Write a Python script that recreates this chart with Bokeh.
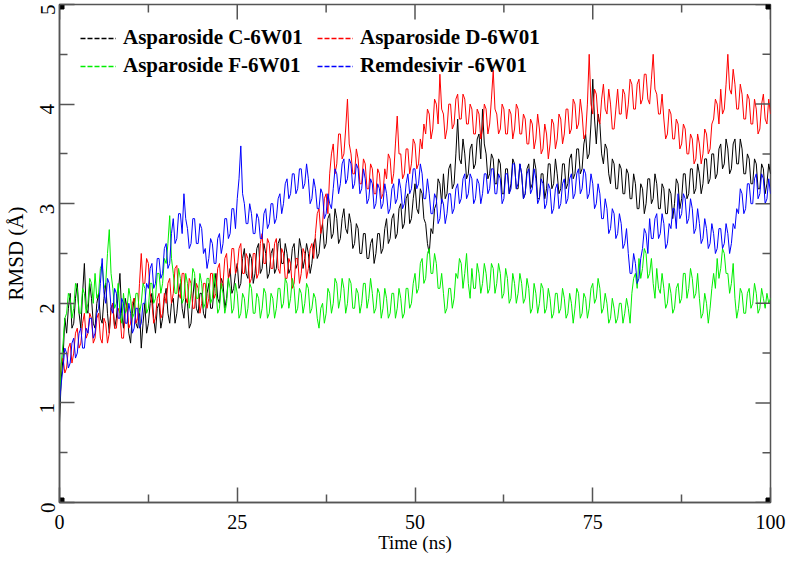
import math
import numpy as np
from bokeh.plotting import figure
from bokeh.models import Range1d, FixedTicker, Legend, LegendItem, ColumnDataSource
from bokeh.embed import file_html
from bokeh.resources import INLINE

# ---------------- data, one value every 0.25 ns ----------------
STEP_NS = 0.25

asparoside_c = [
    0.8, 1.25, 1.45, 1.85, 1.7, 1.95, 2.1, 1.75, 1.8, 2.05, 2.2, 1.9, 1.75, 2.1, 2.4, 1.95, 1.9, 2.2, 2.05, 1.8,
    1.75, 2.0, 2.1, 1.85, 1.8, 2.05, 2.2, 1.9, 1.7, 1.95, 2.0, 1.75, 1.85, 2.1, 2.3, 1.9, 1.75, 2.05, 1.95, 1.7,
    1.6, 1.9, 2.05, 1.8, 1.75, 1.95, 1.55, 1.8, 2.0, 1.7, 1.8, 2.0, 2.1, 1.85, 1.7, 1.95, 2.0, 1.75, 1.85, 2.05,
    2.15, 1.9, 1.8, 2.0, 2.05, 1.8, 1.9, 2.1, 2.2, 1.95, 1.85, 2.05, 2.0, 1.75, 1.8, 2.05, 2.25, 1.95, 1.9, 2.1,
    2.1, 1.9, 1.85, 2.1, 2.2, 1.95, 1.95, 2.15, 2.3, 2.05, 2.0, 2.25, 2.2, 1.95, 2.05, 2.25, 2.35, 2.1, 2.15, 2.3,
    2.4, 2.15, 2.2, 2.45, 2.55, 2.3, 2.25, 2.5, 2.45, 2.2, 2.3, 2.55, 2.6, 2.3, 2.35, 2.6, 2.5, 2.25, 2.3, 2.5,
    2.55, 2.3, 2.35, 2.6, 2.65, 2.4, 2.4, 2.6, 2.5, 2.3, 2.35, 2.55, 2.6, 2.35, 2.4, 2.65, 2.55, 2.35, 2.45, 2.6,
    2.5, 2.3, 2.4, 2.6, 2.65, 2.45, 2.5, 2.7, 2.8, 2.55, 2.6, 2.85, 2.9, 2.65, 2.7, 2.95, 2.85, 2.6, 2.65, 2.85,
    2.95, 2.75, 2.7, 2.9, 2.8, 2.55, 2.6, 2.8, 2.75, 2.5, 2.5, 2.7, 2.7, 2.45, 2.45, 2.6, 2.65, 2.4, 2.5, 2.7,
    2.7, 2.5, 2.55, 2.75, 2.85, 2.6, 2.65, 2.85, 2.9, 2.65, 2.7, 2.95, 3.0, 2.75, 2.8, 3.05, 3.1, 2.8, 2.85, 3.05,
    3.2, 2.95, 2.9, 3.15, 3.1, 2.85, 2.8, 2.6, 2.5, 2.75, 2.7, 2.95, 3.0, 3.25, 3.2, 3.0, 3.3, 3.05, 3.1, 3.35,
    3.4, 3.15, 3.2, 3.5, 3.85, 3.45, 3.4, 3.65, 3.5, 3.25, 3.3, 3.55, 3.6, 3.35, 3.4, 3.65, 3.7, 3.45, 3.95, 3.6,
    3.5, 3.25, 3.3, 3.5, 3.45, 3.2, 3.2, 3.45, 3.4, 3.1, 3.1, 3.35, 3.35, 3.1, 3.2, 3.45, 3.4, 3.15, 3.15, 3.4,
    3.3, 3.05, 3.1, 3.35, 3.4, 3.15, 3.2, 3.45, 3.35, 3.05, 3.05, 3.3, 3.3, 3.05, 3.15, 3.4, 3.4, 3.15, 3.2, 3.45,
    3.3, 3.1, 3.15, 3.4, 3.4, 3.15, 3.2, 3.45, 3.5, 3.25, 3.3, 3.55, 3.55, 3.3, 3.35, 3.6, 3.7, 3.45, 3.5, 3.8,
    4.25, 3.85, 3.6, 3.9, 3.8, 3.5, 3.4, 3.6, 3.55, 3.3, 3.2, 3.45, 3.4, 3.15, 3.15, 3.4, 3.35, 3.1, 3.1, 3.35,
    3.3, 3.05, 3.05, 3.3, 3.2, 2.95, 2.95, 3.2, 3.15, 2.9, 3.0, 3.25, 3.25, 3.0, 3.05, 3.3, 3.2, 2.95, 2.95, 3.2,
    3.15, 2.9, 2.9, 3.15, 3.1, 2.85, 3.0, 3.25, 3.2, 2.95, 3.05, 3.3, 3.3, 3.05, 3.1, 3.35, 3.35, 3.1, 3.15, 3.4,
    3.3, 3.1, 3.2, 3.45, 3.45, 3.2, 3.25, 3.5, 3.5, 3.25, 3.3, 3.55, 3.6, 3.35, 3.4, 3.65, 3.55, 3.3, 3.35, 3.6,
    3.65, 3.4, 3.4, 3.65, 3.55, 3.3, 3.3, 3.5, 3.45, 3.2, 3.2, 3.45, 3.4, 3.15, 3.15, 3.4, 3.35, 3.1, 3.2, 3.4,
    3.3,
]

asparoside_d = [
    1.2, 1.4, 1.45, 1.3, 1.35, 1.55, 1.6, 1.4, 1.5, 1.7, 1.75, 1.55, 1.6, 1.8, 1.9, 1.65, 1.7, 1.9, 1.85, 1.6,
    1.65, 1.85, 1.9, 1.65, 1.6, 1.85, 1.8, 1.6, 1.7, 1.95, 2.0, 1.75, 1.75, 1.95, 1.9, 1.65, 1.65, 1.9, 2.0, 1.75,
    1.8, 2.0, 2.05, 1.8, 1.85, 2.2, 2.5, 2.2, 2.2, 2.45, 2.4, 2.1, 2.0, 1.8, 1.85, 2.05, 2.1, 1.85, 1.9, 2.1,
    2.0, 2.2, 2.25, 2.0, 2.1, 2.35, 2.38, 2.1, 2.05, 2.3, 2.3, 2.05, 2.0, 2.25, 2.2, 1.95, 1.95, 2.2, 2.15, 1.9,
    2.0, 2.2, 2.2, 1.95, 2.05, 2.3, 2.3, 2.05, 2.1, 2.35, 2.4, 2.15, 2.2, 2.45, 2.5, 2.25, 2.3, 2.55, 2.55, 2.3,
    2.35, 2.55, 2.6, 2.3, 2.3, 2.5, 2.45, 2.2, 2.25, 2.5, 2.5, 2.25, 2.3, 2.6, 2.7, 2.4, 2.4, 2.65, 2.6, 2.35,
    2.35, 2.6, 2.65, 2.35, 2.3, 2.55, 2.5, 2.25, 2.25, 2.45, 2.4, 2.15, 2.2, 2.45, 2.45, 2.2, 2.3, 2.55, 2.5, 2.25,
    2.35, 2.55, 2.6, 2.45, 2.7, 2.9, 2.95, 2.7, 2.8, 3.05, 3.1, 2.9, 3.3, 3.5, 3.6, 3.3, 3.4, 3.7, 3.7, 3.45,
    3.5, 3.75, 4.05, 3.6, 3.5, 3.3, 3.3, 3.55, 3.45, 3.2, 3.2, 3.45, 3.4, 3.15, 3.15, 3.4, 3.35, 3.1, 3.1, 3.35,
    3.3, 3.05, 3.1, 3.35, 3.25, 3.5, 3.45, 3.2, 3.3, 3.6, 3.88, 3.5, 3.5, 3.25, 3.3, 3.55, 3.55, 3.3, 3.4, 3.65,
    3.6, 3.35, 3.4, 3.65, 3.55, 3.8, 3.7, 3.95, 3.9, 3.65, 3.75, 4.05, 4.0, 3.8, 4.3, 3.95, 3.9, 3.65, 3.75, 4.0,
    4.0, 3.75, 3.8, 4.05, 4.1, 3.85, 3.85, 4.1, 4.05, 3.8, 3.8, 4.0, 3.95, 3.7, 3.7, 3.95, 3.9, 3.65, 3.75, 4.0,
    3.95, 3.7, 3.8, 4.05, 4.34, 3.95, 3.9, 3.7, 3.75, 4.0, 3.95, 3.7, 3.7, 3.95, 3.9, 3.65, 3.75, 4.0, 3.95, 3.7,
    3.7, 3.9, 3.85, 3.6, 3.6, 3.85, 3.8, 3.55, 3.65, 3.9, 3.75, 3.5, 3.55, 3.8, 3.7, 3.45, 3.6, 3.85, 3.8, 3.55,
    3.65, 3.9, 3.85, 3.6, 3.7, 3.95, 3.95, 3.7, 3.75, 4.05, 4.0, 3.75, 3.8, 4.05, 3.9, 3.65, 3.7, 4.0, 4.5, 4.0,
    3.9, 4.15, 4.1, 3.85, 3.8, 4.05, 4.2, 3.95, 3.9, 4.15, 4.0, 3.75, 3.75, 3.95, 4.15, 3.9, 3.9, 4.15, 4.1, 3.85,
    4.0, 4.25, 4.2, 3.95, 3.95, 4.2, 4.25, 4.0, 4.05, 4.3, 4.3, 4.05, 4.0, 4.25, 4.5, 4.15, 4.1, 3.9, 3.9, 4.1,
    3.85, 3.65, 3.7, 3.95, 3.9, 3.65, 3.65, 3.85, 3.8, 3.55, 3.6, 3.8, 3.75, 3.5, 3.5, 3.7, 3.65, 3.4, 3.45, 3.7,
    3.6, 3.4, 3.5, 3.75, 3.7, 3.5, 3.55, 3.8, 3.85, 4.05, 4.0, 3.8, 4.15, 3.9, 3.95, 4.2, 4.5, 4.15, 4.1, 4.35,
    4.2, 3.95, 3.95, 4.2, 4.1, 3.85, 3.85, 4.1, 4.05, 3.8, 3.8, 4.05, 3.95, 3.7, 3.75, 4.0, 4.1, 3.85, 3.8, 4.05,
    3.9,
]

asparoside_f = [
    1.0, 1.4, 1.6, 1.85, 1.9, 2.1, 2.05, 1.85, 1.95, 2.2, 2.15, 1.9, 1.9, 2.15, 2.1, 1.9, 2.0, 2.25, 2.2, 2.0,
    2.3, 2.05, 2.1, 2.35, 2.4, 2.15, 2.2, 2.5, 2.74, 2.3, 2.15, 1.95, 2.0, 2.2, 1.9, 1.8, 2.1, 1.9, 1.95, 2.15,
    2.05, 1.85, 1.9, 2.1, 2.1, 1.9, 2.0, 2.2, 2.15, 1.9, 1.95, 2.2, 2.2, 2.0, 2.05, 2.3, 2.3, 2.1, 2.2, 2.45,
    2.4, 2.6, 2.88, 2.45, 2.3, 2.1, 2.1, 2.35, 2.25, 2.0, 2.05, 2.3, 2.2, 1.95, 2.1, 2.35, 2.3, 2.05, 2.05, 2.3,
    2.2, 1.95, 2.0, 2.25, 2.25, 2.0, 2.05, 2.3, 2.15, 1.9, 1.95, 2.2, 2.1, 1.9, 2.0, 2.25, 2.15, 1.9, 1.95, 2.2,
    2.1, 1.85, 1.9, 2.1, 2.05, 1.85, 1.95, 2.2, 2.15, 1.9, 1.9, 2.1, 2.05, 1.85, 1.95, 2.15, 2.1, 1.85, 1.9, 2.1,
    2.05, 1.85, 1.95, 2.15, 2.15, 1.95, 2.0, 2.25, 2.2, 1.95, 2.05, 2.25, 2.15, 1.9, 1.95, 2.15, 2.1, 1.9, 2.0, 2.2,
    2.15, 1.9, 1.95, 2.1, 2.05, 1.85, 1.75, 1.95, 2.0, 1.8, 1.9, 2.15, 2.1, 1.9, 2.0, 2.25, 2.2, 1.95, 2.05, 2.25,
    2.15, 1.9, 2.0, 2.25, 2.2, 1.95, 1.95, 2.15, 2.1, 1.9, 2.0, 2.2, 2.2, 1.95, 2.05, 2.25, 2.1, 1.9, 1.95, 2.15,
    2.1, 1.85, 1.95, 2.15, 2.05, 1.85, 1.9, 2.1, 2.1, 1.85, 1.95, 2.15, 2.05, 1.85, 1.9, 2.15, 2.15, 1.95, 2.0, 2.2,
    2.3, 2.1, 2.15, 2.4, 2.45, 2.2, 2.25, 2.5, 2.55, 2.3, 2.3, 2.5, 2.4, 2.15, 2.15, 2.3, 2.1, 1.9, 1.95, 2.15,
    2.15, 1.95, 2.05, 2.3, 2.25, 2.45, 2.4, 2.15, 2.3, 2.5, 2.2, 2.05, 2.35, 2.15, 2.15, 2.4, 2.3, 2.1, 2.2, 2.4,
    2.3, 2.1, 2.15, 2.4, 2.35, 2.1, 2.2, 2.4, 2.3, 2.05, 2.1, 2.35, 2.25, 2.0, 2.05, 2.3, 2.2, 2.0, 2.1, 2.3,
    2.2, 2.0, 2.05, 2.25, 2.15, 1.9, 1.95, 2.2, 2.1, 1.9, 2.0, 2.2, 2.15, 1.9, 1.95, 2.15, 2.05, 1.85, 1.9, 2.1,
    2.1, 1.9, 1.95, 2.15, 2.05, 1.85, 1.9, 2.1, 2.0, 1.8, 1.95, 2.15, 2.1, 1.85, 1.9, 2.1, 2.05, 1.85, 1.95, 2.15,
    2.2, 2.0, 2.05, 2.25, 2.15, 1.9, 1.95, 2.1, 2.0, 1.8, 1.85, 2.05, 1.95, 1.8, 1.85, 2.0, 2.0, 1.8, 1.9, 2.05,
    1.95, 1.8, 2.1, 2.25, 2.3, 2.15, 2.45, 2.25, 2.35, 2.55, 2.5, 2.25, 2.3, 2.45, 2.2, 2.05, 2.35, 2.15, 2.1, 2.3,
    2.15, 1.95, 2.0, 2.2, 2.1, 1.9, 1.95, 2.15, 2.2, 2.0, 2.05, 2.3, 2.3, 2.05, 2.15, 2.35, 2.25, 2.05, 2.1, 2.3,
    2.05, 1.85, 1.9, 2.1, 2.0, 1.8, 1.95, 2.15, 2.3, 2.15, 2.45, 2.25, 2.35, 2.55, 2.5, 2.3, 2.3, 2.1, 2.2, 2.4,
    2.05, 1.85, 1.95, 2.15, 2.1, 1.9, 1.9, 2.1, 2.15, 1.95, 2.0, 2.2, 2.1, 1.9, 1.95, 2.15, 2.05, 1.95, 2.1, 2.0,
    2.05,
]

remdesivir = [
    1.0, 1.2, 1.35, 1.55, 1.5, 1.35, 1.4, 1.6, 1.65, 1.45, 1.5, 1.7, 1.75, 1.55, 1.55, 1.75, 1.7, 1.85, 1.85, 1.65,
    1.7, 1.9, 1.95, 2.2, 2.45, 2.1, 2.0, 2.25, 2.2, 1.95, 1.9, 2.15, 2.1, 1.85, 1.85, 2.05, 2.0, 1.8, 1.8, 2.0,
    1.9, 1.7, 1.75, 1.95, 1.95, 1.75, 1.8, 2.0, 2.0, 2.2, 2.15, 2.35, 2.4, 2.15, 2.2, 2.45, 2.45, 2.25, 2.3, 2.55,
    2.6, 2.35, 2.4, 2.7, 2.85, 2.6, 2.65, 2.9, 2.9, 2.7, 3.1, 2.85, 2.75, 2.55, 2.6, 2.85, 2.85, 2.6, 2.6, 2.8,
    2.75, 2.5, 2.55, 2.35, 2.45, 2.65, 2.6, 2.4, 2.4, 2.65, 2.7, 2.5, 2.6, 2.85, 2.85, 2.65, 2.7, 2.95, 2.95, 2.75,
    3.05, 3.25, 3.58, 3.1, 3.0, 2.8, 2.8, 3.0, 2.9, 2.7, 2.7, 2.9, 2.85, 2.65, 2.65, 2.9, 2.95, 2.75, 2.8, 3.0,
    3.0, 2.8, 2.85, 3.05, 3.1, 2.9, 3.0, 3.2, 3.25, 3.05, 3.1, 3.3, 3.3, 3.1, 3.15, 3.35, 3.35, 3.15, 3.2, 3.4,
    3.25, 3.0, 3.05, 3.25, 3.15, 2.95, 2.95, 3.15, 3.1, 2.85, 2.9, 3.1, 3.0, 2.95, 3.15, 3.35, 3.3, 3.1, 3.2, 3.4,
    3.45, 3.2, 3.25, 3.45, 3.4, 3.15, 3.2, 3.4, 3.35, 3.1, 3.15, 3.35, 3.25, 3.0, 3.05, 3.25, 3.2, 2.95, 3.0, 3.2,
    3.15, 2.95, 3.0, 3.2, 3.1, 2.9, 2.95, 3.15, 3.2, 3.0, 3.05, 3.25, 3.15, 2.95, 3.0, 3.2, 3.3, 3.1, 3.15, 3.35,
    3.35, 3.15, 3.2, 3.4, 3.3, 3.05, 3.05, 3.25, 3.1, 2.9, 2.9, 3.1, 3.05, 2.8, 2.85, 3.05, 3.0, 2.8, 2.9, 3.1,
    3.1, 2.9, 2.95, 3.15, 3.2, 3.0, 3.05, 3.25, 3.3, 3.05, 3.1, 3.3, 3.25, 3.0, 3.05, 3.25, 3.2, 3.0, 3.1, 3.3,
    3.3, 3.1, 3.15, 3.35, 3.35, 3.1, 3.1, 3.3, 3.25, 3.0, 3.05, 3.3, 3.3, 3.1, 3.15, 3.4, 3.4, 3.15, 3.2, 3.4,
    3.3, 3.05, 3.1, 3.3, 3.35, 3.1, 3.15, 3.35, 3.25, 3.0, 3.05, 3.25, 3.2, 2.95, 3.0, 3.2, 3.15, 2.9, 2.95, 3.15,
    3.2, 2.95, 3.0, 3.2, 3.25, 3.0, 3.05, 3.25, 3.3, 3.05, 3.1, 3.3, 3.35, 3.1, 3.15, 3.35, 3.3, 3.05, 3.1, 3.3,
    3.2, 2.95, 3.0, 3.2, 3.1, 2.85, 2.85, 3.05, 2.95, 2.7, 2.75, 2.95, 2.9, 2.65, 2.7, 2.9, 2.8, 2.55, 2.6, 2.75,
    2.5, 2.3, 2.3, 2.5, 2.4, 2.2, 2.25, 2.45, 2.55, 2.75, 2.7, 2.5, 2.85, 2.65, 2.65, 2.85, 2.9, 2.65, 2.7, 2.9,
    2.8, 2.55, 2.6, 2.8, 2.75, 2.95, 2.95, 2.75, 3.1, 2.85, 2.9, 3.1, 3.05, 2.8, 2.85, 3.05, 2.95, 2.7, 2.75, 2.95,
    2.8, 2.6, 2.65, 2.85, 2.75, 2.55, 2.6, 2.8, 2.7, 2.5, 2.55, 2.75, 2.75, 2.55, 2.6, 2.8, 2.7, 2.5, 2.6, 2.8,
    2.75, 2.95, 2.9, 3.15, 3.1, 2.9, 2.95, 3.2, 3.2, 3.0, 3.0, 3.25, 3.3, 3.05, 3.1, 3.3, 3.25, 3.0, 3.05, 3.25,
    3.1,
]

series_labels = ["Asparoside C-6W01", "Asparoside D-6W01",
                 "Asparoside F-6W01", "Remdesivir -6W01"]
series_colors = ["#000000", "#ff0000", "#00ee00", "#0000ff"]
x_ticks = [0, 25, 50, 75, 100]
x_minor = [12.5, 37.5, 62.5, 87.5]
y_ticks = [0, 1, 2, 3, 4, 5]
y_minor = [0.5, 1.5, 2.5, 3.5, 4.5]
X_MIN, X_MAX, Y_MIN, Y_MAX = 0, 100, 0, 5
corner_x = [X_MIN, X_MIN, X_MAX, X_MAX]
corner_y = [Y_MIN, Y_MAX, Y_MIN, Y_MAX]

FONT = "Liberation Serif"
AXIS_COLOR = "#555555"

p = figure(frame_width=711, frame_height=498, output_backend="svg", toolbar_location=None,
           x_range=Range1d(X_MIN, X_MAX), y_range=Range1d(Y_MIN, Y_MAX),
           min_border_left=53, min_border_right=17,
           min_border_top=4, min_border_bottom=45)
p.background_fill_color = "white"
p.border_fill_color = "white"
p.outline_line_color = AXIS_COLOR
p.outline_line_width = 1.5
p.xgrid.visible = False
p.ygrid.visible = False

all_series = [asparoside_c, asparoside_d, asparoside_f, remdesivir]
for vals, col in zip(all_series, series_colors):
    t = np.arange(len(vals)) * STEP_NS
    src = ColumnDataSource(dict(x=t, y=vals))
    p.line("x", "y", source=src, line_color=col, line_width=1)

# dashed samples used only for the legend (no visible data)
legend_renderers = [p.line(x=[np.nan, np.nan], y=[np.nan, np.nan], line_color=col,
                           line_width=1.6, line_dash="5 2")
                    for col in series_colors]

# mirrored inward ticks on the top and right edges
p.ray(x=x_ticks, y=[Y_MAX] * len(x_ticks), length=15, length_units="screen",
      angle=-math.pi / 2, line_color=AXIS_COLOR, line_width=1.5)
p.ray(x=x_minor, y=[Y_MAX] * len(x_minor), length=8, length_units="screen",
      angle=-math.pi / 2, line_color=AXIS_COLOR, line_width=1.5)
p.ray(x=[X_MAX] * len(y_ticks), y=y_ticks, length=15, length_units="screen",
      angle=math.pi, line_color=AXIS_COLOR, line_width=1.5)
p.ray(x=[X_MAX] * len(y_minor), y=y_minor, length=8, length_units="screen",
      angle=math.pi, line_color=AXIS_COLOR, line_width=1.5)

p.scatter(corner_x, corner_y, marker="square", size=9, color="black")

for ax in (p.xaxis[0], p.yaxis[0]):
    ax.axis_line_color = AXIS_COLOR
    ax.axis_line_width = 1.5
    ax.major_tick_line_color = AXIS_COLOR
    ax.minor_tick_line_color = AXIS_COLOR
    ax.major_tick_line_width = 1.5
    ax.minor_tick_line_width = 1.5
    ax.major_tick_in = 15
    ax.major_tick_out = 0
    ax.minor_tick_in = 8
    ax.minor_tick_out = 0
    ax.major_label_text_font = FONT
    ax.major_label_text_color = "black"
    ax.axis_label_text_font = FONT
    ax.axis_label_text_font_style = "normal"
    ax.axis_label_text_color = "black"

p.xaxis.ticker = FixedTicker(ticks=x_ticks, minor_ticks=x_minor)
p.yaxis.ticker = FixedTicker(ticks=y_ticks, minor_ticks=y_minor)
p.xaxis.axis_label = "Time (ns)"
p.yaxis.axis_label = "RMSD (Å)"
p.xaxis.major_label_text_font_size = "20px"
p.yaxis.major_label_text_font_size = "21px"
p.xaxis.axis_label_text_font_size = "19px"
p.yaxis.axis_label_text_font_size = "21px"
p.yaxis.major_label_orientation = math.pi / 2
p.xaxis.major_label_standoff = 12
p.xaxis.axis_label_standoff = 0
p.yaxis.major_label_standoff = 12
p.yaxis.axis_label_standoff = 3

# legend: column-major fill -> rows (C, D) and (F, R)
order = [0, 2, 1, 3]
legend = Legend(items=[LegendItem(label=series_labels[i], renderers=[legend_renderers[i]])
                       for i in order],
                ncols=2, location="top_left")
legend.label_text_font = FONT
legend.label_text_font_style = "bold"
legend.label_text_font_size = "21px"
legend.label_text_color = "black"
legend.glyph_width = 36
legend.glyph_height = 24
legend.label_height = 24
legend.label_width = 191
legend.label_standoff = 7
legend.spacing = 3
legend.padding = 0
legend.margin = 21
legend.border_line_color = None
legend.background_fill_alpha = 0
p.add_layout(legend, "center")

open("out.html", "w").write(file_html(p, INLINE))
